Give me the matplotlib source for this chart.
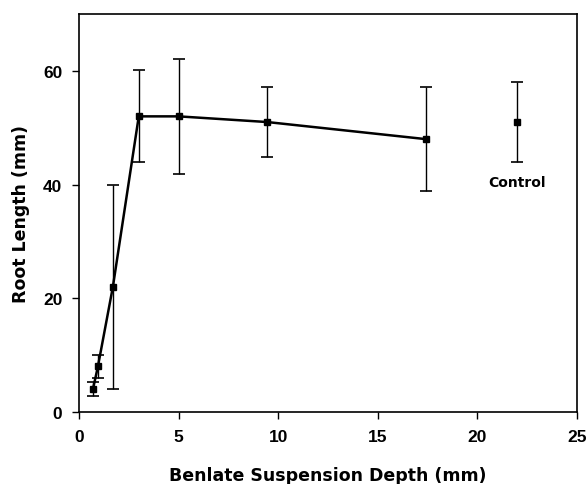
import matplotlib
matplotlib.use("Agg")
import matplotlib.pyplot as plt

depth = [0.7, 0.95, 1.7, 3.0, 5.0, 9.45, 17.4]
root_len = [4, 8, 22, 52, 52, 51, 48]
root_err = [1.2, 2.1, 18, 8.1, 10.1, 6.1, 9.1]

control_x = [22.0]
control_y = [51]
control_err = [7.1]

plt.rcParams['font.family'] = ['Liberation Sans', 'DejaVu Sans']
plt.rcParams['font.weight'] = 'bold'

fig = plt.figure(figsize=(5.86, 4.85), dpi=100)
ax = fig.add_axes([0.1348, 0.1485, 0.85, 0.8205])

ax.errorbar(depth, root_len, yerr=root_err, color='black', marker='s', markersize=5,
            linewidth=1.8, elinewidth=1.0, capsize=4, capthick=1.2)
ax.errorbar(control_x, control_y, yerr=control_err, color='black', marker='s', markersize=5,
            linestyle='none', elinewidth=1.0, capsize=4, capthick=1.2)
ax.text(22.0, 40.5, 'Control', ha='center', va='center', fontsize=10,
        fontweight='bold', family='DejaVu Sans')

ax.set_xlim(0, 25)
ax.set_ylim(0, 70)
ax.set_xticks([0, 5, 10, 15, 20, 25])
ax.set_yticks([0, 20, 40, 60])
ax.tick_params(direction='out', length=5, width=1, labelsize=12.5, pad=7)
for lbl in ax.get_xticklabels() + ax.get_yticklabels():
    lbl.set_fontweight('bold')
for s in ax.spines.values():
    s.set_linewidth(1.2)

ax.set_xlabel('Benlate Suspension Depth (mm)', fontsize=12.5, fontweight='bold',
              family='DejaVu Sans', labelpad=16)
ax.set_ylabel('Root Length (mm)', fontsize=12.5, fontweight='bold',
              family='DejaVu Sans', labelpad=9)

fig.savefig('out.png', dpi=100)
